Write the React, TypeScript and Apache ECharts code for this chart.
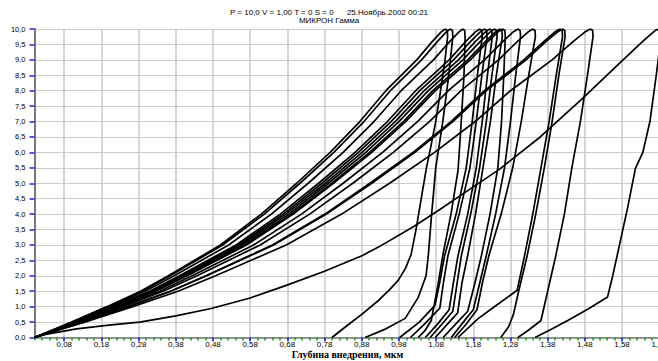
import React, { useEffect, useRef } from "react";
import * as echarts from "echarts";

// ---- data ----
const titleLine1 = "P = 10,0 V = 1,00 T = 0 S = 0      25.Ноябрь.2002 00:21";
const titleLine2 = "МИКРОН Гамма";
const xAxisTitle = "Глубина внедрения, мкм";

const xTickValues = [0.08, 0.18, 0.28, 0.38, 0.48, 0.58, 0.68, 0.78, 0.88, 0.98, 1.08, 1.18, 1.28, 1.38, 1.48, 1.58, 1.68];
const xMin = 0;
const xMax = 1.68;
const xMinorStep = 0.02;
const yMin = 0;
const yMax = 10;
const yStep = 0.5;

const c01 = [[0,0],[0.05,0.25],[0.10,0.5],[0.195,1],[0.285,1.5],[0.36,2],[0.50,3],[0.61,4],[0.705,5],[0.795,6],[0.875,7],[0.945,8],[1.028,9],[1.07,9.6],[1.093,9.9],[1.104,10],
  [1.110,9.95],[1.111,9.75],[1.104,9.0],[1.092,8.0],[1.079,7.0],[1.066,6.2],[1.054,5.5],[1.040,4.5],[1.026,3.5],[1.013,2.7],[0.998,2.25],[0.978,1.85],[0.955,1.55],[0.925,1.2],[0.88,0.75],[0.84,0.38],[0.80,0]];
const c02 = [[0,0],[0.052,0.25],[0.104,0.5],[0.203,1],[0.297,1.5],[0.376,2],[0.522,3],[0.637,4],[0.736,5],[0.830,6],[0.913,7],[0.986,8],[1.073,9],[1.117,9.6],[1.141,9.9],[1.152,10],
  [1.157,9.95],[1.158,9.7],[1.155,8.5],[1.150,7.5],[1.145,6.5],[1.139,5.42],[1.12,4.0],[1.098,2.66],[1.085,1.7],[1.067,0.55],[1.05,0.22],[1.032,0]];
const c03 = [[0,0],[0.054,0.25],[0.108,0.5],[0.211,1],[0.309,1.5],[0.390,2],[0.542,3],[0.661,4],[0.764,5],[0.862,6],[0.949,7],[1.025,8],[1.115,9],[1.160,9.6],[1.185,9.9],[1.197,10],
  [1.203,9.95],[1.204,9.75],[1.191,8.5],[1.177,7.0],[1.161,5.5],[1.134,4.0],[1.103,2.66],[1.09,1.8],[1.077,1.04],[1.035,0.5],[0.982,0]];
const c04 = [[0,0],[0.055,0.25],[0.110,0.5],[0.214,1],[0.312,1.5],[0.395,2],[0.548,3],[0.669,4],[0.773,5],[0.871,6],[0.959,7],[1.036,8],[1.127,9],[1.173,9.6],[1.198,9.9],[1.210,10],
  [1.216,9.95],[1.217,9.75],[1.203,8.5],[1.188,7.0],[1.171,5.5],[1.142,4.0],[1.112,2.66],[1.10,1.8],[1.09,0.95],[1.05,0.45],[1.011,0]];
const c05 = [[0,0],[0.055,0.25],[0.111,0.5],[0.216,1],[0.316,1.5],[0.399,2],[0.554,3],[0.676,4],[0.782,5],[0.881,6],[0.970,7],[1.048,8],[1.140,9],[1.186,9.6],[1.212,9.9],[1.224,10],
  [1.230,9.95],[1.231,9.75],[1.218,8.5],[1.204,7.0],[1.188,5.5],[1.165,4.0],[1.139,2.66],[1.127,1.8],[1.115,0.9],[1.085,0.45],[1.051,0]];
const c06 = [[0,0],[0.056,0.25],[0.112,0.5],[0.218,1],[0.319,1.5],[0.403,2],[0.560,3],[0.684,4],[0.790,5],[0.891,6],[0.980,7],[1.059,8],[1.152,9],[1.199,9.6],[1.225,9.9],[1.237,10],
  [1.243,9.95],[1.244,9.75],[1.230,8.5],[1.215,7.0],[1.197,5.5],[1.173,4.0],[1.148,2.66],[1.137,1.8],[1.125,0.85],[1.095,0.42],[1.064,0]];
const c07 = [[0,0],[0.057,0.25],[0.113,0.5],[0.221,1],[0.323,1.5],[0.408,2],[0.567,3],[0.691,4],[0.799,5],[0.901,6],[0.992,7],[1.071,8],[1.165,9],[1.213,9.6],[1.239,9.9],[1.251,10],
  [1.257,9.95],[1.258,9.75],[1.242,8.5],[1.226,7.0],[1.206,5.5],[1.186,4.0],[1.165,2.66],[1.15,1.8],[1.138,0.8],[1.108,0.4],[1.078,0]];
const c08 = [[0,0],[0.057,0.25],[0.114,0.5],[0.222,1],[0.325,1.5],[0.411,2],[0.570,3],[0.696,4],[0.804,5],[0.907,6],[0.998,7],[1.078,8],[1.172,9],[1.220,9.6],[1.246,9.9],[1.259,10],
  [1.265,9.95],[1.266,9.75],[1.262,8.5],[1.256,7.0],[1.246,5.5],[1.225,4.0],[1.202,2.66],[1.185,1.8],[1.165,0.85],[1.13,0.4],[1.099,0]];
const c09 = [[0,0],[0.059,0.25],[0.118,0.5],[0.230,1],[0.336,1.5],[0.424,2],[0.589,3],[0.718,4],[0.830,5],[0.936,6],[1.030,7],[1.113,8],[1.210,9],[1.260,9.6],[1.287,9.9],[1.300,10],
  [1.306,9.95],[1.307,9.75],[1.294,8.5],[1.28,7.0],[1.264,5.5],[1.24,4.0],[1.215,2.66],[1.198,1.8],[1.18,0.9],[1.15,0.45],[1.121,0]];
const c10 = [[0,0],[0.061,0.25],[0.121,0.5],[0.237,1],[0.346,1.5],[0.437,2],[0.607,3],[0.740,4],[0.856,5],[0.965,6],[1.062,7],[1.147,8],[1.248,9],[1.299,9.6],[1.327,9.9],[1.340,10],
  [1.346,9.95],[1.347,9.75],[1.329,8.5],[1.309,7.0],[1.286,5.5],[1.255,4.0],[1.222,2.66],[1.205,1.8],[1.19,0.9],[1.16,0.42],[1.13,0]];
const c11 = [[0,0],[0.064,0.25],[0.128,0.5],[0.250,1],[0.365,1.5],[0.461,2],[0.640,3],[0.781,4],[0.902,5],[1.018,6],[1.120,7],[1.210,8],[1.316,9],[1.370,9.6],[1.399,9.9],[1.413,10],
  [1.419,9.95],[1.420,9.75],[1.403,8.5],[1.384,7.0],[1.362,5.5],[1.34,4.0],[1.318,2.66],[1.298,1.53],[1.245,1.07],[1.193,0.61],[1.139,0]];
const c12 = [[0,0],[0.064,0.25],[0.129,0.5],[0.251,1],[0.367,1.5],[0.463,2],[0.643,3],[0.785,4],[0.907,5],[1.023,6],[1.125,7],[1.215,8],[1.322,9],[1.376,9.6],[1.406,9.9],[1.420,10],
  [1.426,9.95],[1.427,9.75],[1.41,8.5],[1.392,7.0],[1.371,5.5],[1.348,4.0],[1.325,2.66],[1.302,1.5],[1.288,0.75],[1.275,0.35],[1.254,0]];
const c13 = [[0,0],[0.068,0.25],[0.135,0.5],[0.264,1],[0.386,1.5],[0.487,2],[0.677,3],[0.826,4],[0.955,5],[1.076,6],[1.185,7],[1.280,8],[1.392,9],[1.449,9.6],[1.480,9.9],[1.495,10],
  [1.501,9.95],[1.502,9.75],[1.487,8.5],[1.468,7.0],[1.445,5.5],[1.425,4.0],[1.402,2.66],[1.38,1.5],[1.362,0.55],[1.33,0.25],[1.30,0]];
const c14 = [[0,0],[0.03,0.1],[0.113,0.28],[0.2,0.4],[0.283,0.5],[0.38,0.7],[0.475,0.94],[0.58,1.28],[0.677,1.69],[0.78,2.15],[0.882,2.66],[0.925,2.93],[1.02,3.6],[1.09,4.15],[1.17,4.8],[1.25,5.45],[1.36,6.5],[1.474,7.75],[1.57,8.85],[1.64,9.65],[1.669,9.95],[1.678,10],
  [1.684,9.95],[1.685,9.75],[1.672,8.5],[1.655,7.0],[1.636,6.0],[1.616,5.48],[1.595,4.2],[1.567,2.66],[1.555,2.0],[1.541,1.31],[1.49,0.93],[1.434,0.55],[1.39,0.27],[1.346,0]];
const c15 = [[0,0],[0.051,0.25],[0.101,0.5],[0.197,1],[0.289,1.5],[0.365,2],[0.506,3],[0.618,4],[0.714,5],[0.805,6],[0.886,7],[0.957,8],[1.041,9],[1.084,9.6],[1.107,9.9],[1.118,10],
  [1.124,9.95],[1.125,9.75],[1.114,8.5],[1.098,7.0],[1.079,5.5],[1.068,4.0],[1.059,2.66],[1.053,2.0],[1.032,1.3],[0.997,0.62],[0.945,0.28],[0.889,0]];

const curves = [c01, c02, c03, c04, c05, c06, c07, c08, c09, c10, c11, c12, c13, c14, c15];

const fmtX = (v: number) => v.toFixed(2).replace(".", ",");
const fmtY = (v: number) => v.toFixed(1).replace(".", ",");

export default function App() {
  const ref = useRef<HTMLDivElement>(null);
  useEffect(() => {
    if (!ref.current) return;
    const chart = echarts.init(ref.current, undefined, { renderer: "svg" });
    const sans = "Liberation Sans, Arial, sans-serif";
    chart.setOption({
      animation: false,
      backgroundColor: "#ffffff",
      grid: { left: 34.5, top: 29, width: 625.5, height: 308.5, containLabel: false },
      xAxis: [
        {
          type: "value",
          min: xMin,
          max: xMax,
          interval: xMinorStep,
          position: "bottom",
          axisLine: { show: true, onZero: false, lineStyle: { color: "#777777", width: 1.5 } },
          axisTick: { show: true, length: 3, lineStyle: { color: "#1a9a1a", width: 1.5 } },
          axisLabel: { show: false },
          splitLine: { show: false },
        },
        {
          type: "value",
          min: xMin,
          max: xMax,
          position: "bottom",
          axisLine: { show: false, onZero: false },
          axisTick: { show: true, customValues: xTickValues, length: 4, lineStyle: { color: "#2222ee", width: 1.5 } },
          axisLabel: {
            show: true,
            customValues: xTickValues,
            formatter: (v: number) => fmtX(v),
            margin: 3,
            fontSize: 8,
            fontFamily: sans,
            color: "#000000",
          },
          splitLine: { show: true, lineStyle: { color: "#c8c8c8", width: 1.5 } },
        },
      ],
      yAxis: {
        type: "value",
        min: yMin,
        max: yMax,
        interval: yStep,
        axisLine: { show: true, lineStyle: { color: "#777777", width: 2 } },
        axisTick: { show: true, length: 5, lineStyle: { color: "#2222ee", width: 1.5 } },
        axisLabel: {
          formatter: (v: number) => fmtY(v),
          margin: 9,
          fontSize: 7.5,
          fontFamily: sans,
          color: "#000000",
        },
        splitLine: { show: true, lineStyle: { color: "#999999", width: 1, type: "dotted" } },
      },
      graphic: [
        {
          type: "text",
          x: 329,
          y: 12,
          style: { text: titleLine1, fontSize: 8, fontFamily: sans, fill: "#000", align: "center", verticalAlign: "middle", textAlign: "center", textVerticalAlign: "middle" },
        },
        {
          type: "text",
          x: 329,
          y: 20,
          style: { text: titleLine2, fontSize: 8, fontFamily: sans, fill: "#000", align: "center", verticalAlign: "middle", textAlign: "center", textVerticalAlign: "middle" },
        },
        {
          type: "text",
          x: 347.5,
          y: 354.5,
          style: { text: xAxisTitle, fontSize: 10, fontWeight: "bold", fontFamily: "Liberation Serif, Times New Roman, serif", fill: "#000", align: "center", verticalAlign: "middle", textAlign: "center", textVerticalAlign: "middle" },
        },
      ],
      series: curves.map((c, i) => ({
        type: "line",
        name: "curve" + (i + 1),
        xAxisIndex: 0,
        yAxisIndex: 0,
        data: c,
        showSymbol: false,
        symbol: "none",
        smooth: false,
        silent: true,
        lineStyle: { color: "#000000", width: 1.7 },
        z: 3,
      })),
    });
    return () => chart.dispose();
  }, []);
  return (
    <div style={{ position: "fixed", left: 0, top: 0, width: 658, height: 361, overflow: "hidden", background: "#fff" }}>
      <div ref={ref} style={{ width: 670, height: 361 }} />
    </div>
  );
}
